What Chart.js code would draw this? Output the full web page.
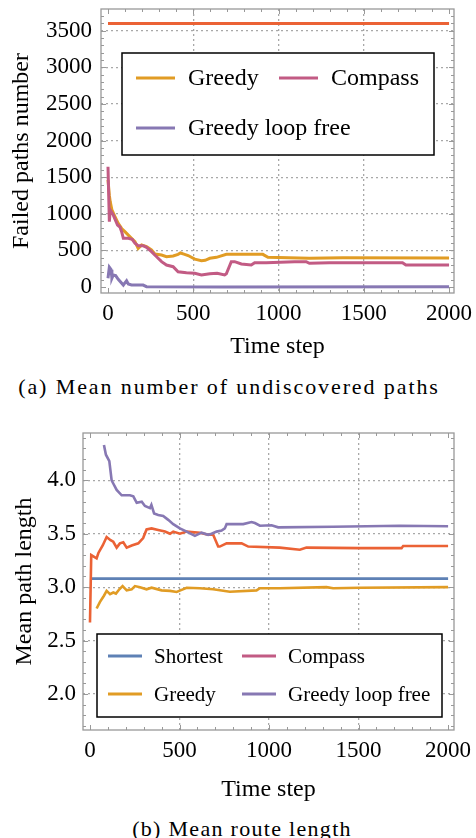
<!DOCTYPE html>
<html>
<head>
<meta charset="utf-8">
<script src="https://cdn.jsdelivr.net/npm/chart.js@4.4.1/dist/chart.umd.min.js"></script>
<style>
  body { margin: 0; background: #fff; width: 476px; height: 838px; position: relative; overflow: hidden; font-family: 'Liberation Serif', 'Times New Roman', serif; }
  canvas { position: absolute; left: 0; }
  .caption { position: absolute; width: 476px; text-align: center; font-size: 22px; line-height: 24px; color: #000; }
</style>
</head>
<body>
<canvas id="graphe-a" width="476" height="370" style="top:0"></canvas>
<div class="caption" style="top:375px;left:-9px;letter-spacing:1.9px">(a) Mean number of undiscovered paths</div>
<canvas id="graphe-b" width="476" height="395" style="top:410px"></canvas>
<div class="caption" style="top:817px;left:4px;letter-spacing:1.3px">(b) Mean route length</div>

<script>
// ---- donnees du graphe (a) : chemins non decouverts ----
const stepsTotalA = [0, 2000];
const failTotalA = [3600, 3600];

const stepsGreedyA = [0, 8, 13, 23, 41, 60, 80, 99, 109, 138, 158, 177, 197, 226, 255, 275, 314, 343, 382, 411, 425, 445, 470, 509, 548, 570, 597, 636, 694, 792, 908, 938, 1181, 1376, 2000];
const failGreedyA = [1462, 1250, 1166, 1052, 961, 870, 800, 756, 733, 665, 619, 528, 574, 551, 506, 451, 437, 414, 423, 446, 465, 450, 430, 380, 360, 365, 392, 405, 446, 446, 446, 405, 392, 400, 395];

const stepsCompassA = [0, 8, 13, 31, 56, 70, 80, 90, 119, 142, 158, 177, 206, 226, 255, 285, 314, 343, 382, 411, 460, 509, 548, 597, 640, 684, 694, 723, 743, 782, 840, 860, 928, 1094, 1162, 1181, 1298, 1727, 1747, 2000];
const failCompassA = [1643, 892, 1052, 983, 847, 820, 756, 665, 665, 651, 597, 565, 565, 542, 483, 414, 346, 300, 277, 209, 196, 187, 164, 180, 187, 164, 180, 346, 346, 314, 300, 332, 332, 346, 346, 323, 332, 332, 300, 300];

const stepsLoopFreeA = [0, 8, 18, 23, 31, 45, 60, 90, 109, 119, 138, 206, 226, 674, 2000];
const failLoopFreeA = [119, 269, 237, 119, 164, 155, 105, 27, 86, 41, 27, 27, 5, 0, 3];

const xTicks = [0, 500, 1000, 1500, 2000];
const xTickLabels = ['0', '500', '1000', '1500', '2000'];
const yTicksA = [0, 500, 1000, 1500, 2000, 2500, 3000, 3500];
const yTickLabelsA = ['0', '500', '1000', '1500', '2000', '2500', '3000', '3500'];

// ---- donnees du graphe (b) : longueur moyenne des routes ----
const stepsShortestB = [0, 2000];
const lenShortestB = [3.08, 3.08];

const stepsCompassB = [0, 7, 37, 47, 71, 93, 115, 130, 149, 167, 186, 205, 233, 270, 297, 316, 344, 381, 419, 447, 465, 502, 540, 614, 660, 688, 716, 725, 763, 847, 884, 1060, 1172, 1209, 1507, 1740, 1749, 2000];
const lenCompassB = [2.67, 3.30, 3.27, 3.32, 3.39, 3.47, 3.44, 3.425, 3.37, 3.41, 3.42, 3.37, 3.39, 3.41, 3.46, 3.54, 3.55, 3.535, 3.52, 3.50, 3.52, 3.50, 3.52, 3.51, 3.49, 3.49, 3.38, 3.38, 3.41, 3.41, 3.38, 3.37, 3.35, 3.37, 3.365, 3.365, 3.385, 3.385];

const stepsGreedyB = [37, 56, 78, 93, 112, 130, 145, 164, 182, 205, 233, 251, 279, 316, 344, 400, 447, 484, 512, 540, 614, 688, 781, 930, 949, 1060, 1321, 1358, 1507, 2000];
const lenGreedyB = [2.80, 2.863, 2.92, 2.965, 2.935, 2.95, 2.94, 2.98, 3.01, 2.97, 2.98, 3.01, 3.0, 2.98, 2.995, 2.97, 2.965, 2.955, 2.975, 2.995, 2.99, 2.98, 2.957, 2.97, 2.99, 2.99, 3.0, 2.99, 2.995, 3.0];

const stepsLoopFreeB = [78, 89, 108, 121, 130, 149, 177, 223, 242, 261, 289, 307, 335, 343, 358, 381, 409, 437, 465, 502, 540, 586, 623, 660, 679, 707, 735, 753, 763, 856, 902, 921, 949, 1014, 1051, 1358, 1730, 2000];
const lenLoopFreeB = [4.33, 4.24, 4.18, 4.00, 3.97, 3.91, 3.86, 3.86, 3.85, 3.79, 3.80, 3.76, 3.74, 3.77, 3.69, 3.675, 3.666, 3.63, 3.59, 3.55, 3.52, 3.48, 3.51, 3.49, 3.50, 3.52, 3.53, 3.55, 3.59, 3.59, 3.61, 3.60, 3.575, 3.58, 3.56, 3.565, 3.575, 3.57];

const yTicksB = [2.0, 2.5, 3.0, 3.5, 4.0];
const yTickLabelsB = ['2.0', '2.5', '3.0', '3.5', '4.0'];

// couleurs
const BLUE = '#5e81b5', ORANGE = '#e19c24', RED = '#eb6235', PURPLE = '#8778b3', PINK = '#c25b84';
const FONT = "'Liberation Serif', 'Times New Roman', serif";
Chart.defaults.font.family = FONT;
Chart.defaults.color = '#000';

function pts(xs, ys) {
  return xs.map((x, i) => ({ x: x, y: ys[i] }));
}

// le cadre avec les petites graduations a l'interieur (style Mathematica)
function makeFrame(xMajor, xMinor, yMajor, yMinor) {
  return {
    id: 'cadre',
    afterDatasetsDraw(chart) {
      const { ctx, chartArea: a, scales: { x, y } } = chart;
      ctx.save();
      ctx.strokeStyle = '#999';
      ctx.lineWidth = 1;
      ctx.beginPath();
      const tick = (list, len, isX) => list.forEach(v => {
        if (isX) {
          const p = Math.round(x.getPixelForValue(v)) + 0.5;
          ctx.moveTo(p, a.bottom); ctx.lineTo(p, a.bottom - len);
          ctx.moveTo(p, a.top); ctx.lineTo(p, a.top + len);
        } else {
          const p = Math.round(y.getPixelForValue(v)) + 0.5;
          ctx.moveTo(a.left, p); ctx.lineTo(a.left + len, p);
          ctx.moveTo(a.right, p); ctx.lineTo(a.right - len, p);
        }
      });
      tick(xMinor, 3, true); tick(xMajor, 5, true);
      tick(yMinor, 3, false); tick(yMajor, 5, false);
      ctx.stroke();
      ctx.lineWidth = 1.3;
      ctx.strokeRect(a.left, a.top, a.right - a.left, a.bottom - a.top);
      ctx.restore();
    }
  };
}

// la legende dans une boite noire
function makeLegend(box, size, swatch, gap, items) {
  return {
    id: 'legendeBoite',
    afterDraw(chart) {
      const ctx = chart.ctx;
      ctx.save();
      ctx.fillStyle = '#fff';
      ctx.fillRect(box[0], box[1], box[2], box[3]);
      ctx.strokeStyle = '#000';
      ctx.lineWidth = 1.5;
      ctx.strokeRect(box[0], box[1], box[2], box[3]);
      ctx.font = size + 'px ' + FONT;
      ctx.textBaseline = 'middle';
      items.forEach(it => {
        const ds = chart.data.datasets[it.ds];
        ctx.strokeStyle = it.color || ds.borderColor;
        ctx.lineWidth = 3;
        ctx.beginPath();
        ctx.moveTo(it.x, it.y);
        ctx.lineTo(it.x + swatch, it.y);
        ctx.stroke();
        ctx.fillStyle = '#000';
        ctx.fillText(ds.label, it.x + swatch + gap, it.y + 1);
      });
      ctx.restore();
    }
  };
}

const minorX = [];
for (let v = 0; v <= 2000; v += 100) minorX.push(v);
const minorYA = [];
for (let v = 0; v <= 3700; v += 100) minorYA.push(v);
const minorYB = [];
for (let v = 17; v <= 44; v++) minorYB.push(v / 10);

function xScale(min, max, height) {
  return {
    type: 'linear', min: min, max: max,
    afterBuildTicks: s => { s.ticks = xTicks.map(v => ({ value: v })); },
    afterFit: s => { s.height = height; s.paddingLeft = 0; s.paddingRight = 0; },
    ticks: { padding: 7, font: { size: 23 }, color: '#000', maxRotation: 0, callback: (v, i) => xTickLabels[i] },
    grid: { drawTicks: false, lineWidth: 1.3, color: c => (c.tick && c.tick.value > 0 && c.tick.value < 2000) ? '#a8a8a8' : 'rgba(0,0,0,0)' },
    border: { display: false, dash: [2, 3] },
    title: { display: true, text: 'Time step', font: { size: 24 }, padding: 0, color: '#000' }
  };
}

// le graphe (a)
const grapheA = document.querySelector('#graphe-a');
if (grapheA) {
  new Chart(grapheA, {
    type: 'line',
    data: {
      datasets: [
        { label: 'Greedy', data: pts(stepsGreedyA, failGreedyA), borderColor: ORANGE, order: 2 },
        { label: 'Compass', data: pts(stepsCompassA, failCompassA), borderColor: PINK, order: 1 },
        { label: 'Greedy loop free', data: pts(stepsLoopFreeA, failLoopFreeA), borderColor: PURPLE, order: 0 },
        { label: 'Total', data: pts(stepsTotalA, failTotalA), borderColor: RED, order: 3 }
      ]
    },
    options: {
      responsive: false, animation: false,
      layout: { padding: { top: 9, right: 22, bottom: 8.6, left: 0 } },
      elements: { line: { borderWidth: 3, tension: 0 }, point: { radius: 0 } },
      plugins: { legend: { display: false }, tooltip: { enabled: false } },
      scales: {
        x: xScale(-41, 2029, 68.4),
        y: {
          type: 'linear', min: -82, max: 3798,
          afterBuildTicks: s => { s.ticks = yTicksA.map(v => ({ value: v })); },
          afterFit: s => { s.width = 101; s.paddingTop = 0; s.paddingBottom = 0; },
          ticks: { padding: 9, font: { size: 23 }, color: '#000', callback: (v, i) => yTickLabelsA[i] },
          grid: { drawTicks: false, lineWidth: 1.3, color: c => (c.tick && c.tick.value > 0) ? '#a8a8a8' : 'rgba(0,0,0,0)' },
          border: { display: false, dash: [2, 3] },
          title: { display: true, text: 'Failed paths number', font: { size: 24 }, padding: { top: 7.6, bottom: 0 }, color: '#000' }
        }
      }
    },
    plugins: [
      makeFrame(xTicks, minorX, yTicksA, minorYA),
      makeLegend([122, 53, 312, 102], 24, 39, 13, [
        { ds: 0, x: 136, y: 78 },
        { ds: 1, x: 279, y: 78 },
        { ds: 2, x: 136, y: 128 }
      ])
    ]
  });
}

// le graphe (b)
const grapheB = document.querySelector('#graphe-b');
if (grapheB) {
  new Chart(grapheB, {
    type: 'line',
    data: {
      datasets: [
        { label: 'Shortest', data: pts(stepsShortestB, lenShortestB), borderColor: BLUE, order: 3 },
        { label: 'Compass', data: pts(stepsCompassB, lenCompassB), borderColor: RED, order: 1 },
        { label: 'Greedy', data: pts(stepsGreedyB, lenGreedyB), borderColor: ORANGE, order: 2 },
        { label: 'Greedy loop free', data: pts(stepsLoopFreeB, lenLoopFreeB), borderColor: PURPLE, order: 0 }
      ]
    },
    options: {
      responsive: false, animation: false,
      layout: { padding: { top: 23, right: 22, bottom: 0.6, left: 0 } },
      elements: { line: { borderWidth: 2.6, tension: 0 }, point: { radius: 0 } },
      plugins: { legend: { display: false }, tooltip: { enabled: false } },
      scales: {
        x: xScale(-39, 2033, 74.4),
        y: {
          type: 'linear', min: 1.663, max: 4.443,
          afterBuildTicks: s => { s.ticks = yTicksB.map(v => ({ value: v })); },
          afterFit: s => { s.width = 83; s.paddingTop = 0; s.paddingBottom = 0; },
          ticks: { padding: 7, font: { size: 23 }, color: '#000', callback: (v, i) => yTickLabelsB[i] },
          grid: { drawTicks: false, lineWidth: 1.3, color: '#a8a8a8' },
          border: { display: false, dash: [2, 3] },
          title: { display: true, text: 'Mean path length', font: { size: 24 }, padding: { top: 10.6, bottom: 0 }, color: '#000' }
        }
      }
    },
    plugins: [
      makeFrame(xTicks, minorX, yTicksB, minorYB),
      makeLegend([97, 224, 345, 83], 21, 34, 12, [
        { ds: 0, x: 108, y: 246 },
        { ds: 1, x: 242, y: 246, color: PINK },
        { ds: 2, x: 108, y: 284 },
        { ds: 3, x: 242, y: 284 }
      ])
    ]
  });
}
</script>
</body>
</html>
